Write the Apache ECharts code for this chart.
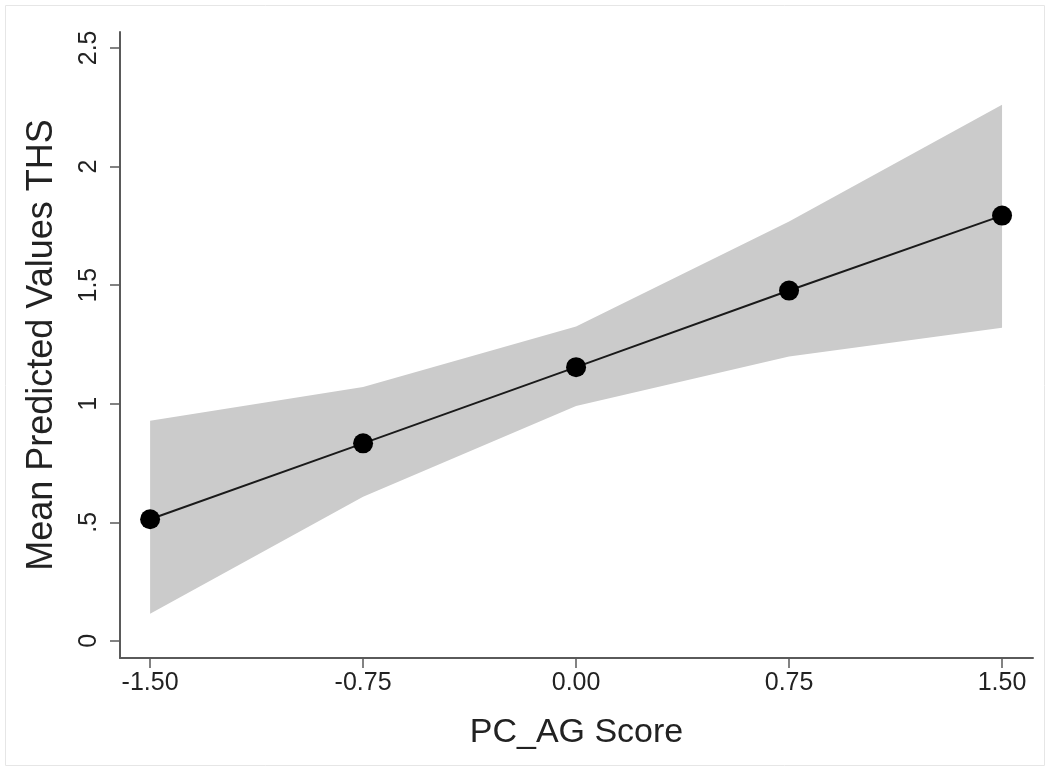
<!DOCTYPE html>
<html>
<head>
<meta charset="utf-8">
<style>
  html, body { margin: 0; padding: 0; background: #fff; }
  #chart { width: 1047px; height: 768px; }
</style>
<script src="https://cdn.jsdelivr.net/npm/echarts@6/dist/echarts.min.js"></script>
</head>
<body>
<div id="chart"></div>
<script>
// PC_AG score levels and predicted THS with 95% CI
const xVals = [-1.5, -0.75, 0, 0.75, 1.5];
const meanVals = [0.513, 0.833, 1.154, 1.477, 1.793];
const lowerVals = [0.115, 0.608, 0.99, 1.199, 1.32];
const upperVals = [0.928, 1.07, 1.325, 1.768, 2.26];
const xTicks = [-1.5, -0.75, 0, 0.75, 1.5];
const yTicks = [0, 0.5, 1, 1.5, 2, 2.5];

const pair = (ys) => xVals.map((x, i) => [x, ys[i]]);

const axisColor = "#5a5a5a";
const textColor = "#222";
const font = "Liberation Sans, Arial, Helvetica, sans-serif";

const chart = echarts.init(document.getElementById("chart"), null, { renderer: "canvas" });

// CI band: one polygon, upper edge left->right then lower edge back
function renderBand(params, api) {
  if (params.dataIndex !== 0) return;
  const pts = [];
  for (let i = 0; i < xVals.length; i++) pts.push(api.coord([xVals[i], upperVals[i]]));
  for (let i = xVals.length - 1; i >= 0; i--) pts.push(api.coord([xVals[i], lowerVals[i]]));
  return {
    type: "polygon",
    shape: { points: pts },
    style: { fill: "#cbcbcb" },
    silent: true,
  };
}

chart.setOption({
  animation: false,
  backgroundColor: "#fff",
  graphic: [
    {
      type: "rect",
      shape: { x: 5.5, y: 5.5, width: 1039, height: 760 },
      style: { fill: "none", stroke: "#e6e6e6", lineWidth: 1 },
      silent: true,
    },
  ],
  grid: { left: 120, right: 14, top: 32, bottom: 110 },
  xAxis: {
    type: "value",
    min: -1.606,
    max: 1.609,
    name: "PC_AG Score",
    nameLocation: "middle",
    nameGap: 58,
    nameTextStyle: { color: textColor, fontSize: 34, fontFamily: font },
    axisLine: { show: true, onZero: false, lineStyle: { color: axisColor, width: 2 } },
    axisTick: {
      show: true,
      length: 10,
      customValues: xTicks,
      lineStyle: { color: axisColor, width: 1.5 },
    },
    axisLabel: {
      customValues: xTicks,
      color: textColor,
      fontSize: 25,
      fontFamily: font,
      margin: 13,
      formatter: (v) => v.toFixed(2),
    },
    splitLine: { show: false },
  },
  yAxis: {
    type: "value",
    min: -0.072,
    max: 2.567,
    name: "Mean Predicted Values THS",
    nameLocation: "middle",
    nameGap: 60,
    nameRotate: 90,
    nameTextStyle: { color: textColor, fontSize: 36, fontFamily: font },
    axisLine: { show: true, onZero: false, lineStyle: { color: axisColor, width: 2 } },
    axisTick: {
      show: true,
      length: 10,
      customValues: yTicks,
      lineStyle: { color: axisColor, width: 1.5 },
    },
    axisLabel: {
      customValues: yTicks,
      rotate: 90,
      color: textColor,
      fontSize: 25,
      fontFamily: font,
      margin: 18,
      formatter: (v) => (v === 0 ? "0" : String(v).replace(/^0\./, ".")),
    },
    splitLine: { show: false },
  },
  series: [
    {
      name: "ci",
      type: "custom",
      renderItem: renderBand,
      data: pair(upperVals),
      encode: { x: 0, y: 1 },
      silent: true,
      z: 1,
    },
    {
      name: "mean",
      type: "line",
      data: pair(meanVals),
      symbol: "circle",
      symbolSize: 20,
      itemStyle: { color: "#000" },
      lineStyle: { color: "#1a1a1a", width: 2 },
      z: 5,
    },
  ],
});
</script>
</body>
</html>
